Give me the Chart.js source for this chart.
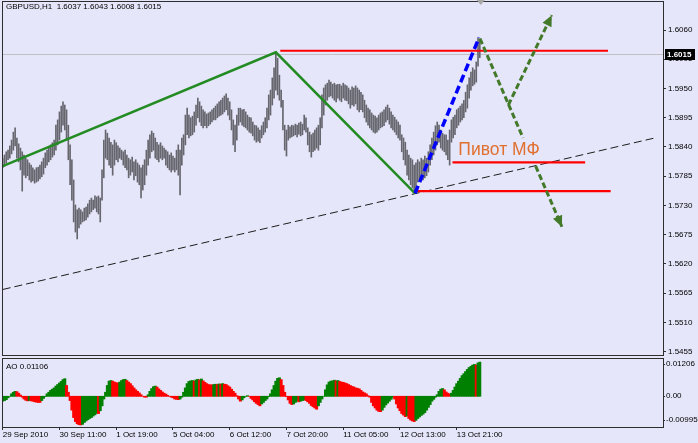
<!DOCTYPE html>
<html><head><meta charset="utf-8">
<script src="https://cdn.jsdelivr.net/npm/chart.js@4.4.1/dist/chart.umd.min.js"></script>
<style>
html,body{margin:0;padding:0;background:#E6E6FA;overflow:hidden;width:698px;height:443px}
canvas{position:absolute;left:0;display:block}
#main{top:0}
#ao{top:357px}
</style></head><body>
<canvas id="main" width="698" height="357" style="width:698px;height:357px"></canvas>
<canvas id="ao" width="698" height="86" style="width:698px;height:86px"></canvas>
<script>
// ---------------- data ----------------
const symbol = 'GBPUSD', timeframe = 'H1';
const highs = [
1.5819,1.5825,1.5831,1.5834,1.5842,1.5853,1.5868,1.5876,1.5857,1.5846,
1.5838,1.5831,1.5825,1.5819,1.5816,1.5810,1.5806,1.5801,1.5797,1.5801,
1.5802,1.5806,1.5812,1.5819,1.5829,1.5834,1.5840,1.5844,1.5848,1.5853,
1.5881,1.5891,1.5906,1.5917,1.5925,1.5919,1.5910,1.5881,1.5844,1.5816,
1.5778,1.5731,1.5722,1.5725,1.5722,1.5718,1.5725,1.5727,1.5733,1.5740,
1.5744,1.5740,1.5748,1.5746,1.5748,1.5744,1.5797,1.5853,1.5872,1.5866,
1.5857,1.5849,1.5844,1.5853,1.5848,1.5842,1.5838,1.5834,1.5831,1.5834,
1.5825,1.5819,1.5816,1.5821,1.5812,1.5816,1.5810,1.5806,1.5801,1.5806,
1.5816,1.5834,1.5853,1.5863,1.5870,1.5866,1.5857,1.5849,1.5844,1.5848,
1.5842,1.5838,1.5834,1.5831,1.5825,1.5829,1.5823,1.5819,1.5834,1.5844,
1.5834,1.5857,1.5863,1.5900,1.5913,1.5900,1.5895,1.5898,1.5906,1.5919,
1.5932,1.5925,1.5917,1.5910,1.5906,1.5902,1.5904,1.5906,1.5910,1.5913,
1.5917,1.5921,1.5925,1.5928,1.5932,1.5936,1.5940,1.5932,1.5925,1.5910,
1.5891,1.5881,1.5900,1.5913,1.5913,1.5910,1.5911,1.5906,1.5900,1.5896,
1.5895,1.5887,1.5881,1.5880,1.5876,1.5872,1.5880,1.5887,1.5895,1.5913,
1.5938,1.5947,1.5970,1.5989,1.6019,1.6007,1.5975,1.5947,1.5928,1.5881,
1.5872,1.5881,1.5878,1.5881,1.5880,1.5883,1.5881,1.5885,1.5887,1.5883,
1.5900,1.5895,1.5876,1.5868,1.5863,1.5866,1.5872,1.5876,1.5881,1.5895,
1.5938,1.5951,1.5957,1.5960,1.5966,1.5962,1.5958,1.5960,1.5957,1.5958,
1.5958,1.5955,1.5960,1.5957,1.5955,1.5951,1.5947,1.5953,1.5951,1.5955,
1.5951,1.5947,1.5943,1.5938,1.5928,1.5919,1.5913,1.5910,1.5904,1.5900,
1.5898,1.5895,1.5900,1.5904,1.5906,1.5910,1.5915,1.5919,1.5913,1.5906,
1.5900,1.5896,1.5891,1.5887,1.5881,1.5863,1.5857,1.5849,1.5834,1.5825,
1.5819,1.5816,1.5806,1.5810,1.5816,1.5812,1.5819,1.5816,1.5823,1.5819,
1.5831,1.5844,1.5857,1.5868,1.5880,1.5887,1.5881,1.5872,1.5866,1.5863,
1.5863,1.5853,1.5872,1.5891,1.5896,1.5900,1.5910,1.5913,1.5917,1.5921,
1.5928,1.5943,1.5957,1.5970,1.5981,1.5989,1.5985,1.6000,1.6045,1.6043
];
const lows = [
1.5801,1.5804,1.5810,1.5816,1.5819,1.5827,1.5834,1.5842,1.5819,1.5812,
1.5797,1.5757,1.5787,1.5782,1.5786,1.5778,1.5774,1.5776,1.5772,1.5774,
1.5776,1.5780,1.5784,1.5789,1.5801,1.5806,1.5812,1.5816,1.5821,1.5825,
1.5834,1.5844,1.5853,1.5868,1.5881,1.5872,1.5853,1.5816,1.5769,1.5740,
1.5699,1.5680,1.5667,1.5688,1.5695,1.5699,1.5701,1.5703,1.5708,1.5714,
1.5718,1.5722,1.5725,1.5718,1.5714,1.5699,1.5740,1.5782,1.5819,1.5816,
1.5806,1.5801,1.5787,1.5806,1.5816,1.5812,1.5819,1.5816,1.5806,1.5801,
1.5797,1.5782,1.5787,1.5793,1.5778,1.5786,1.5774,1.5769,1.5744,1.5759,
1.5769,1.5787,1.5806,1.5819,1.5831,1.5834,1.5819,1.5816,1.5812,1.5819,
1.5816,1.5819,1.5806,1.5801,1.5797,1.5793,1.5797,1.5793,1.5797,1.5787,
1.5750,1.5806,1.5825,1.5844,1.5863,1.5857,1.5861,1.5863,1.5868,1.5881,
1.5895,1.5887,1.5880,1.5876,1.5880,1.5876,1.5880,1.5883,1.5887,1.5891,
1.5891,1.5895,1.5898,1.5900,1.5902,1.5906,1.5910,1.5900,1.5891,1.5872,
1.5844,1.5831,1.5853,1.5881,1.5887,1.5881,1.5878,1.5876,1.5872,1.5868,
1.5866,1.5861,1.5853,1.5849,1.5851,1.5848,1.5857,1.5863,1.5868,1.5876,
1.5891,1.5900,1.5919,1.5932,1.5947,1.5938,1.5928,1.5915,1.5872,1.5834,
1.5823,1.5853,1.5857,1.5859,1.5861,1.5863,1.5859,1.5864,1.5861,1.5863,
1.5872,1.5868,1.5844,1.5831,1.5821,1.5831,1.5834,1.5838,1.5834,1.5844,
1.5876,1.5900,1.5919,1.5928,1.5934,1.5936,1.5932,1.5928,1.5925,1.5932,
1.5928,1.5925,1.5932,1.5928,1.5927,1.5921,1.5913,1.5919,1.5917,1.5921,
1.5910,1.5906,1.5910,1.5906,1.5895,1.5887,1.5881,1.5876,1.5872,1.5868,
1.5866,1.5868,1.5872,1.5876,1.5878,1.5880,1.5887,1.5891,1.5883,1.5876,
1.5872,1.5868,1.5863,1.5857,1.5853,1.5831,1.5816,1.5806,1.5787,1.5778,
1.5769,1.5763,1.5754,1.5759,1.5774,1.5778,1.5782,1.5778,1.5782,1.5786,
1.5793,1.5806,1.5816,1.5825,1.5834,1.5844,1.5849,1.5838,1.5834,1.5831,
1.5825,1.5816,1.5806,1.5849,1.5857,1.5863,1.5876,1.5881,1.5887,1.5891,
1.5895,1.5906,1.5913,1.5932,1.5947,1.5955,1.5958,1.5962,1.5992,1.6008
];
const lastOpen = 1.6037, lastClose = 1.6015;

const aoValues = [
-0.0016,-0.0014,-0.0011,-0.0005,0.0000,0.0008,0.0013,0.0016,0.0015,0.0010,
0.0004,-0.0003,-0.0009,-0.0013,-0.0015,-0.0014,-0.0015,-0.0016,-0.0018,-0.0019,
-0.0020,-0.0020,-0.0014,-0.0007,-0.0001,0.0008,0.0013,0.0019,0.0023,0.0027,
0.0033,0.0038,0.0043,0.0048,0.0054,0.0057,0.0035,0.0013,-0.0014,-0.0045,
-0.0069,-0.0082,-0.0089,-0.0092,-0.0093,-0.0091,-0.0085,-0.0080,-0.0076,-0.0072,
-0.0069,-0.0064,-0.0060,-0.0055,-0.0056,-0.0047,-0.0031,-0.0009,0.0013,0.0035,
0.0049,0.0051,0.0049,0.0046,0.0044,0.0043,0.0046,0.0051,0.0054,0.0055,
0.0051,0.0046,0.0041,0.0034,0.0027,0.0021,0.0016,0.0011,0.0005,0.0000,
-0.0003,-0.0003,0.0005,0.0016,0.0025,0.0031,0.0033,0.0030,0.0024,0.0019,
0.0014,0.0010,0.0007,0.0003,0.0000,-0.0003,-0.0005,-0.0009,-0.0010,-0.0011,
-0.0009,-0.0003,0.0013,0.0027,0.0041,0.0048,0.0050,0.0051,0.0049,0.0053,
0.0055,0.0053,0.0056,0.0050,0.0045,0.0041,0.0038,0.0037,0.0037,0.0038,
0.0039,0.0038,0.0040,0.0039,0.0041,0.0039,0.0038,0.0034,0.0030,0.0023,
0.0016,0.0010,0.0002,-0.0009,-0.0016,-0.0012,-0.0005,0.0000,0.0002,0.0000,
-0.0007,-0.0012,-0.0018,-0.0023,-0.0027,-0.0031,-0.0025,-0.0020,-0.0014,-0.0009,
-0.0001,0.0008,0.0021,0.0035,0.0049,0.0058,0.0060,0.0054,0.0035,0.0013,
-0.0001,-0.0012,-0.0023,-0.0027,-0.0025,-0.0020,-0.0016,-0.0018,-0.0016,-0.0014,
-0.0012,-0.0014,-0.0018,-0.0023,-0.0030,-0.0034,-0.0038,-0.0042,-0.0031,-0.0020,
-0.0009,0.0000,0.0021,0.0037,0.0046,0.0049,0.0050,0.0052,0.0050,0.0051,
0.0048,0.0046,0.0045,0.0043,0.0041,0.0038,0.0035,0.0032,0.0030,0.0027,
0.0026,0.0024,0.0019,0.0014,0.0011,0.0008,0.0002,-0.0003,-0.0020,-0.0031,
-0.0038,-0.0045,-0.0049,-0.0050,-0.0045,-0.0036,-0.0028,-0.0022,-0.0016,-0.0010,
-0.0003,-0.0009,-0.0025,-0.0038,-0.0047,-0.0056,-0.0061,-0.0066,-0.0064,-0.0072,
-0.0077,-0.0080,-0.0082,-0.0078,-0.0072,-0.0067,-0.0062,-0.0058,-0.0053,-0.0045,
-0.0036,-0.0027,-0.0016,-0.0010,-0.0003,0.0005,0.0016,0.0023,0.0025,0.0021,
0.0014,0.0010,0.0007,0.0010,0.0019,0.0030,0.0041,0.0049,0.0058,0.0067,
0.0073,0.0080,0.0087,0.0093,0.0097,0.0101,0.0103,0.0101,0.0108,0.01106
];

const timeTickBars = [0, 32, 64, 96, 128, 160, 192, 224, 256];
const timeTickLabels = ['29 Sep 2010','30 Sep 11:00','1 Oct 19:00','5 Oct 04:00','6 Oct 12:00','7 Oct 20:00','11 Oct 05:00','12 Oct 13:00','13 Oct 21:00'];
const priceTicks = [1.5455,1.5510,1.5565,1.5620,1.5675,1.5730,1.5785,1.5840,1.5895,1.5950,1.6005,1.6060];
const aoTicks = [0.01206, 0, -0.00995];
const aoTickLabels = ['0.01206', '0.00', '-0.00995'];

// drawn objects, in (bar index, price)
const greenWave = [[0, 1.5804], [154, 1.6018], [232.5, 1.5753]];
const blueImpulse = [[232.5, 1.5753], [268.6, 1.6046]];
const redLevels = [[156.5, 341.3, 1.6021], [253.6, 328.4, 1.5811], [233.4, 342.8, 1.5757]];
const channelLine = [[0, 1.5572], [369, 1.5858]];
const forecastDown = [[[269.1, 1.6044], [293.4, 1.5857]], [[300.5, 1.5804], [315.3, 1.5690]]];
const forecastUp = [[285.1, 1.5919], [309.6, 1.6088]];
const pivotLabel = { text: 'Пивот МФ', bar: 256.9, price: 1.5834 };

// ---------------- view / style ----------------
const FONT = '"Liberation Sans", Arial, sans-serif';
const FRAME = '#2e2e2e';
const GREEN_AO = '#008000', RED_AO = '#FF0000';
const ARROW_GREEN = '#437A2A';
const xView = { min: -0.4, max: 372.3 };
const priceView = { min: 1.54488, max: 1.61127 };
const aoView = { min: -0.00995, max: 0.01206 };

Chart.defaults.font.family = FONT;
Chart.defaults.font.size = 8;
Chart.defaults.color = '#000';

function lineDs(points, color, width, dash, order) {
  return {
    type: 'line', data: points.map(p => ({ x: p[0], y: p[1] })),
    borderColor: color, borderWidth: width, borderDash: dash || [],
    pointRadius: 0, pointHoverRadius: 0, fill: false, tension: 0, order: order,
    borderCapStyle: 'butt'
  };
}

const datasets = [];
datasets.push({
  type: 'bar', label: symbol,
  data: highs.map((h, i) => ({ x: i, y: [lows[i], h] })),
  backgroundColor: '#66666e', borderWidth: 0, barThickness: 1, order: 20
});
datasets.push(lineDs(channelLine, '#1c1c1c', 1, [8, 4], 15));
datasets.push(lineDs(greenWave, '#228B22', 2.5, [], 10));
redLevels.forEach(l => datasets.push(lineDs([[l[0], l[2]], [l[1], l[2]]], '#FF0000', 2.2, [], 9)));
datasets.push(lineDs(blueImpulse, '#0000FF', 3.5, [8, 4], 5));
forecastDown.forEach(seg => datasets.push(lineDs(seg, ARROW_GREEN, 3, [6, 3], 3)));
datasets.push(lineDs(forecastUp, ARROW_GREEN, 3, [6, 3], 3));

function arrowHead(ctx, xs, ys, from, to) {
  const x0 = xs.getPixelForValue(from[0]), y0 = ys.getPixelForValue(from[1]);
  const x1 = xs.getPixelForValue(to[0]), y1 = ys.getPixelForValue(to[1]);
  const a = Math.atan2(y1 - y0, x1 - x0);
  const L = 11, W = 5;
  ctx.beginPath();
  ctx.moveTo(x1, y1);
  ctx.lineTo(x1 - L * Math.cos(a) + W * Math.sin(a), y1 - L * Math.sin(a) - W * Math.cos(a));
  ctx.lineTo(x1 - L * Math.cos(a) - W * Math.sin(a), y1 - L * Math.sin(a) + W * Math.cos(a));
  ctx.closePath();
  ctx.fill();
}

const mainDecor = {
  id: 'mainDecor',
  beforeDatasetsDraw(chart) {
    const { ctx, chartArea: a, scales: { y } } = chart;
    const py = Math.round(y.getPixelForValue(lastClose)) + 0.5;
    ctx.save();
    ctx.strokeStyle = '#C0C0C0'; ctx.lineWidth = 1;
    ctx.beginPath(); ctx.moveTo(a.left, py); ctx.lineTo(a.right, py); ctx.stroke();
    ctx.restore();
  },
  afterDatasetsDraw(chart) {
    const { ctx, scales: { x, y } } = chart;
    ctx.save();
    ctx.fillStyle = ARROW_GREEN;
    const lastSeg = forecastDown[forecastDown.length - 1];
    arrowHead(ctx, x, y, lastSeg[0], lastSeg[1]);
    arrowHead(ctx, x, y, forecastUp[0], forecastUp[1]);
    ctx.font = '17.5px ' + FONT;
    ctx.fillStyle = '#E07030';
    ctx.textAlign = 'left'; ctx.textBaseline = 'middle';
    ctx.fillText(pivotLabel.text, x.getPixelForValue(pivotLabel.bar), y.getPixelForValue(pivotLabel.price));
    ctx.restore();
  },
  afterDraw(chart) {
    const { ctx, chartArea: a, scales: { x, y } } = chart;
    ctx.save();
    ctx.strokeStyle = FRAME; ctx.lineWidth = 1;
    ctx.strokeRect(a.left + 0.5, a.top - 0.5, a.right - a.left, a.bottom - a.top + 1);
    // header
    const n = highs.length - 1;
    ctx.font = '8px ' + FONT; ctx.fillStyle = '#000';
    ctx.textAlign = 'left'; ctx.textBaseline = 'middle';
    ctx.fillText(symbol + ',' + timeframe + '  ' + lastOpen.toFixed(4) + ' ' + highs[n].toFixed(4) + ' ' +
      lows[n].toFixed(4) + ' ' + lastClose.toFixed(4), 6, 7);
    // bid label
    const py = Math.round(y.getPixelForValue(lastClose));
    ctx.fillStyle = '#000';
    ctx.fillRect(a.right + 2, py - 5, 30, 11);
    ctx.fillStyle = '#fff'; ctx.font = 'bold 8px ' + FONT;
    ctx.fillText(lastClose.toFixed(4), a.right + 4, py + 0.5);
    // shift marker
    const sx = x.getPixelForValue(n) + 1;
    ctx.fillStyle = '#A8A8A8';
    ctx.beginPath(); ctx.moveTo(sx - 4, 0); ctx.lineTo(sx + 4, 0); ctx.lineTo(sx, 5); ctx.closePath(); ctx.fill();
    ctx.restore();
  }
};

new Chart(document.getElementById('main'), {
  type: 'bar',
  data: { datasets },
  options: {
    responsive: false, animation: false, events: [], devicePixelRatio: 1,
    layout: { padding: { left: 2, top: 2, right: 0, bottom: 2 } },
    plugins: { legend: { display: false }, tooltip: { enabled: false } },
    scales: {
      x: { type: 'linear', display: false, min: xView.min, max: xView.max, offset: false, grid: { offset: false } },
      y: {
        type: 'linear', position: 'right', min: priceView.min, max: priceView.max, beginAtZero: false,
        afterBuildTicks: s => { s.ticks = priceTicks.map(v => ({ value: v })); },
        afterFit: s => { s.width = 35; s.paddingTop = 0; s.paddingBottom = 0; },
        ticks: { autoSkip: false, padding: 2, color: '#000', font: { size: 8, family: FONT }, callback: v => v.toFixed(4) },
        grid: { drawOnChartArea: false, drawTicks: true, tickLength: 3, color: FRAME },
        border: { display: false }
      }
    }
  },
  plugins: [mainDecor]
});

// ---------------- AO panel ----------------
const aoColors = [];
aoValues.forEach((v, i) => {
  if (i === 0) aoColors.push(GREEN_AO);
  else if (v > aoValues[i - 1]) aoColors.push(GREEN_AO);
  else if (v < aoValues[i - 1]) aoColors.push(RED_AO);
  else aoColors.push(aoColors[i - 1]);
});

const aoDecor = {
  id: 'aoDecor',
  afterDraw(chart) {
    const { ctx, chartArea: a, scales: { y } } = chart;
    ctx.save();
    ctx.strokeStyle = FRAME; ctx.lineWidth = 1;
    ctx.strokeRect(a.left + 0.5, a.top - 0.5, a.right - a.left, a.bottom - a.top + 1);
    ctx.font = '8px ' + FONT; ctx.fillStyle = '#000';
    ctx.textAlign = 'left'; ctx.textBaseline = 'middle';
    ctx.fillText('AO ' + aoValues[aoValues.length - 1].toFixed(5), 6, 10);
    aoTicks.forEach((v, i) => {
      let py = y.getPixelForValue(v);
      py = Math.min(Math.max(py, a.top + 5), a.bottom - 7);
      ctx.beginPath(); ctx.moveTo(a.right, Math.round(py) + 0.5); ctx.lineTo(a.right + 2, Math.round(py) + 0.5); ctx.stroke();
      ctx.fillText(aoTickLabels[i], a.right + 3, py);
    });
    ctx.restore();
  }
};

new Chart(document.getElementById('ao'), {
  type: 'bar',
  data: {
    datasets: [{
      type: 'bar', label: 'AO',
      data: aoValues.map((v, i) => ({ x: i, y: v })),
      backgroundColor: aoColors, borderWidth: 0, barThickness: 2.3
    }]
  },
  options: {
    responsive: false, animation: false, events: [], devicePixelRatio: 1,
    layout: { padding: { left: 2, top: 2, right: 0, bottom: 0 } },
    plugins: { legend: { display: false }, tooltip: { enabled: false } },
    scales: {
      x: {
        type: 'linear', position: 'bottom', min: xView.min, max: xView.max, offset: false,
        afterBuildTicks: s => { s.ticks = timeTickBars.map(v => ({ value: v })); },
        afterFit: s => { s.height = 16; s.paddingLeft = 0; s.paddingRight = 0; },
        ticks: { autoSkip: false, maxRotation: 0, minRotation: 0, align: 'start', padding: 0, color: '#000',
          font: { size: 8, family: FONT }, callback: (v, i) => timeTickLabels[i] },
        grid: { drawOnChartArea: false, drawTicks: true, tickLength: 3, color: FRAME, offset: false },
        border: { display: false }
      },
      y: {
        type: 'linear', position: 'right', min: aoView.min, max: aoView.max,
        afterFit: s => { s.width = 35; s.paddingTop = 0; s.paddingBottom = 0; },
        ticks: { display: false }, grid: { display: false }, border: { display: false }
      }
    }
  },
  plugins: [aoDecor]
});
</script>
</body></html>
